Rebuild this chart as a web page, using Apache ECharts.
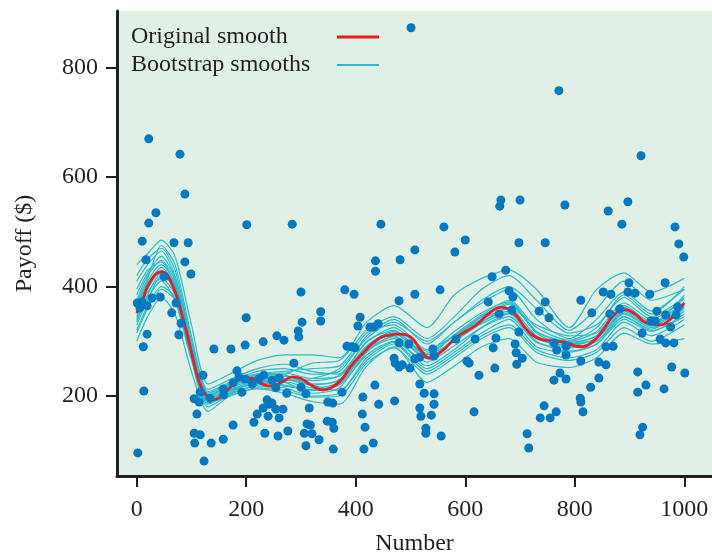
<!DOCTYPE html>
<html>
<head>
<meta charset="utf-8">
<title>Original and bootstrap smooths</title>
<script src="https://cdn.jsdelivr.net/npm/echarts@6/dist/echarts.min.js"></script>
<style>
html,body{margin:0;padding:0;background:#fff;}
#main{width:712px;height:552px;}
</style>
</head>
<body>
<div id="main"></div>
<script>
// observed points (Number, Payoff)
var dotX = [22,79,88,35,22,201,10,68,94,17,88,99,50,28,43,1,10,6,19,72,64,81,200,19,77,12,141,172,198,231,
	183,121,187,198,211,223,232,158,176,192,116,13,105,114,134,159,110,176,220,231,214,234,105,116,106,136,158,2,123,
	436,436,481,300,380,397,479,336,336,408,404,302,295,296,256,269,426,433,441,384,393,399,479,497,470,472,479,485,499,
	287,247,254,260,300,274,309,375,435,413,238,242,247,254,267,315,349,358,442,471,240,260,412,311,317,348,357,360,417,
	276,258,306,320,333,309,359,415,432,284,446,
	508,581,600,698,746,508,554,649,674,680,687,642,685,662,746,735,753,698,583,618,656,651,691,693,704,694,
	541,543,508,517,603,607,654,625,762,762,517,525,543,543,517,519,538,616,528,528,556,744,737,755,766,713,716,
	501,771,665,663,700,561,
	782,861,897,886,921,983,990,999,965,899,852,866,897,910,937,811,831,864,882,950,966,988,985,939,947,975,923,956,
	966,981,784,767,784,857,870,811,844,857,915,977,1001,773,784,844,930,829,915,963,810,811,815,924,919];
var dotY = [670,642,569,535,516,513,483,480,480,449,445,423,418,379,381,370,372,361,365,370,352,333,343,313,312,290,286,286,293,299,
	246,238,235,231,222,231,238,213,224,207,207,209,195,189,196,202,167,147,167,178,152,132,132,129,114,114,121,96,81,
	447,428,449,390,394,386,374,354,337,344,328,335,319,308,310,302,326,326,332,291,290,288,297,295,269,260,253,257,251,
	260,229,215,233,216,205,204,207,220,198,193,185,187,176,176,178,189,187,185,191,163,160,167,149,147,154,152,141,143,
	136,127,132,131,120,109,103,103,114,514,514,
	467,463,485,480,480,386,394,418,430,392,381,372,357,350,372,355,343,317,304,304,306,288,295,279,269,258,
	286,273,268,271,264,260,251,238,297,229,222,205,204,185,178,163,165,171,141,132,127,182,160,160,171,131,105,
	873,758,558,547,558,509,
	549,538,555,514,639,509,478,454,407,407,390,386,390,388,386,375,352,350,359,355,348,363,348,337,337,326,315,304,
	297,297,291,284,275,290,291,264,262,257,244,253,242,242,231,233,220,216,207,213,196,189,171,143,129];

// original smooth
var smoothX = [0,10,25,45,65,85,100,113,125,140,155,170,190,210,225,245,265,285,300,320,340,355,375,390,410,440,460,480,500,
	520,535,555,585,620,645,665,690,710,730,755,780,810,830,850,870,890,910,930,955,975,1000];
var smoothY = [352,374,410,427,403,340,280,229,204,193,200,215,231,232,224,218,225,235,232,219,211,215,231,253,275,304,311,313,308,
	282,269,280,308,330,352,362,350,324,307,301,299,290,297,318,346,358,350,334,330,341,370];

// bootstrap smooths, all sampled at bootX
var bootX = [0,20,45,70,100,130,170,220,270,320,370,420,470,530,580,630,680,730,790,840,890,940,1000];
var bootSmooths = [
	[300,345,380,350,245,172,200,213,205,190,185,255,290,225,255,290,305,262,252,270,315,295,305],
	[440,460,485,455,330,222,240,265,275,275,270,335,365,325,385,415,430,395,325,395,425,390,415],
	[330,375,420,400,285,195,210,225,230,220,230,285,315,270,300,335,360,310,295,305,355,330,365],
	[365,410,440,405,290,200,218,232,236,228,238,298,325,282,318,352,372,318,300,318,370,340,378],
	[345,390,415,385,270,190,208,222,220,210,220,275,300,262,292,325,345,298,288,300,345,322,360],
	[410,440,465,420,300,208,225,245,250,240,245,310,340,295,335,370,395,340,305,340,390,355,395],
	[320,365,400,380,275,192,205,218,215,200,205,265,295,245,275,310,330,285,270,285,335,310,340],
	[385,425,455,415,295,205,222,240,245,250,255,315,330,285,310,340,360,330,310,315,365,335,370],
	[355,395,430,395,275,185,205,228,225,205,215,280,310,268,305,345,370,315,290,300,350,325,355],
	[370,415,475,440,310,212,230,250,258,245,240,300,320,275,300,335,355,305,298,310,360,330,385],
	[340,380,410,375,265,180,203,220,228,232,250,305,335,300,335,375,400,360,315,330,380,345,380],
	[395,430,445,400,280,195,212,226,218,212,222,282,305,255,285,325,350,300,282,295,340,318,350],
	[315,360,395,375,270,188,200,215,210,198,200,260,288,240,270,305,325,280,265,280,325,300,330],
	[375,420,448,410,292,202,220,238,242,232,236,292,318,278,312,348,375,325,302,325,385,350,400],
	[350,400,435,400,280,198,215,230,232,222,228,290,315,275,310,345,368,318,296,310,362,332,372],
	[360,405,425,390,275,193,210,226,226,215,225,285,308,270,300,332,352,305,292,305,352,328,362],
	[335,385,425,395,285,200,218,236,240,260,265,320,345,305,345,395,420,375,320,360,410,375,395],
	[420,450,470,430,300,205,222,240,238,220,210,270,298,250,280,315,340,290,280,295,345,320,345]
];

var xTicks = [0,200,400,600,800,1000];
var yTicks = [200,400,600,800];

var FONT = 'Liberation Serif';
var FSIZE = 24;
var INK = '#231f20';
var CYAN = '#2bbccd';
var RED = '#ec1c24';

function pairs(xs, ys){
	var out = [];
	for(var i = 0; i < xs.length; i++){
		out.push([xs[i], ys[i]]);
	}
	return out;
}

var chart = echarts.init(document.getElementById('main'));

var series = [];
for(var b = 0; b < bootSmooths.length; b++){
	series.push({
		name:'Bootstrap smooths',
		type:'line',
		data:pairs(bootX, bootSmooths[b]),
		symbol:'none',
		smooth:0.25,
		silent:true,
		z:2,
		itemStyle:{color:CYAN},
		lineStyle:{color:CYAN, width:1.2}
	});
}
series.push({
	name:'Original smooth',
	type:'line',
	data:pairs(smoothX, smoothY),
	symbol:'none',
	smooth:0.5,
	silent:true,
	z:3,
	itemStyle:{color:RED},
	lineStyle:{color:RED, width:2.8}
});
series.push({
	name:'Payoff',
	type:'scatter',
	data:pairs(dotX, dotY),
	symbolSize:9,
	z:4,
	itemStyle:{color:'#0079c1', opacity:1}
});

var option = {
	animation:false,
	backgroundColor:'#ffffff',
	grid:{
		show:true,
		left:117,
		top:11,
		right:0,
		bottom:76,
		outerBoundsMode:'none',
		backgroundColor:'#e1f0e5',
		borderWidth:0
	},
	legend:{
		orient:'vertical',
		left:131,
		top:25,
		padding:0,
		align:'right',
		selectedMode:false,
		itemWidth:42,
		itemHeight:14,
		itemGap:4,
		itemStyle:{opacity:0},
		data:[
			{name:'Original smooth', lineStyle:{width:3}},
			{name:'Bootstrap smooths', lineStyle:{width:2}}
		],
		formatter:'{a|{name}}',
		textStyle:{
			fontFamily:FONT,
			fontSize:FSIZE,
			color:INK,
			rich:{
				a:{width:201, align:'left', fontFamily:FONT, fontSize:FSIZE, color:INK, lineHeight:22}
			}
		}
	},
	xAxis:{
		type:'value',
		min:-36,
		max:1050.6,
		name:'Number',
		nameLocation:'middle',
		nameGap:56,
		nameTextStyle:{fontFamily:FONT, fontSize:FSIZE, color:INK},
		axisLine:{show:true, onZero:false, lineStyle:{color:INK, width:3}},
		axisTick:{show:true, length:11, customValues:xTicks, lineStyle:{color:INK, width:2}},
		axisLabel:{customValues:xTicks, margin:22, fontFamily:FONT, fontSize:FSIZE, color:INK,
			formatter:function(v){ return String(v); }},
		splitLine:{show:false}
	},
	yAxis:{
		type:'value',
		min:53.8,
		max:903.6,
		name:'Payoff ($)',
		nameLocation:'middle',
		nameGap:80,
		nameTextStyle:{fontFamily:FONT, fontSize:FSIZE, color:INK},
		axisLine:{show:true, onZero:false, lineStyle:{color:INK, width:3}},
		axisTick:{show:true, length:11, customValues:yTicks, lineStyle:{color:INK, width:2}},
		axisLabel:{customValues:yTicks, margin:19, fontFamily:FONT, fontSize:FSIZE, color:INK,
			formatter:function(v){ return String(v); }},
		splitLine:{show:false}
	},
	series:series
};
chart.setOption(option);
</script>
</body>
</html>
